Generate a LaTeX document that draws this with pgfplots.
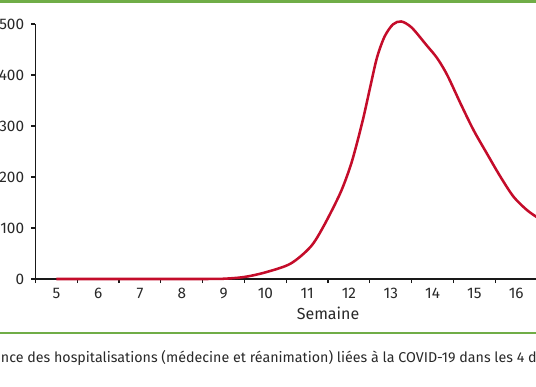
\documentclass[border=0pt]{standalone}
\usepackage{fontspec}
\setmainfont{Fira Sans}
\usepackage{pgfplots}
\pgfplotsset{compat=1.18}
\definecolor{grn}{RGB}{112,173,71}
\definecolor{crv}{RGB}{196,12,42}
\definecolor{txt}{RGB}{40,40,40}
\begin{document}
\begin{tikzpicture}[x=1pt,y=1pt]
\path[use as bounding box] (0,0) rectangle (402,289.5);
\clip (0,0) rectangle (402,289.5);
\draw[grn, line width=2pt] (0,288.5) -- (402,288.5);
\draw[grn, line width=1.6pt] (0,39.75) -- (402,39.75);
\begin{axis}[
  at={(26.6pt,80.25pt)}, anchor=south west,
  scale only axis, width=438.9pt, height=191.25pt,
  xmin=4.5, xmax=18.5, ymin=0, ymax=500,
  clip=false,
  axis x line=bottom, axis y line=left,
  axis line style={-, line width=0.9pt, black!90},
  every tick/.style={black!90, line width=0.9pt},
  tick align=outside,
  xtick={5,...,18},
  major x tick style={draw=none},
  minor xtick={4.5,5.5,...,18.5},
  minor tick length=3pt, major tick length=3pt,
  ytick={0,100,...,500},
  tick label style={font=\fontsize{11.5}{13}\selectfont, text=txt},
  /pgf/number format/assume math mode=true,
  xticklabel style={yshift=-0.5pt},
  yticklabel style={xshift=-2pt},
  xlabel={Semaine},
  xlabel style={font=\fontsize{12}{14}\selectfont, text=txt, at={(axis description cs:0.5,0)}, anchor=north, yshift=-17.5pt},
]
\addplot[crv, line width=1.9pt, smooth] coordinates {
(5,0) (6,0) (7,0) (8,0) (8.5,0) (9,0.5) (9.5,4) (10,13) (10.6,30) (11.08,63)
(11.39,103) (11.79,168) (12.03,220) (12.19,266) (12.35,318) (12.51,377)
(12.67,434) (12.85,475) (13.05,499) (13.25,505) (13.5,493) (13.85,459)
(14.11,433) (14.35,400) (14.67,344) (14.98,292) (15.3,246) (15.62,201)
(15.94,161) (16.26,135) (16.5,121)
};
\end{axis}
\node[anchor=base west, inner sep=0, text=txt, font=\fontsize{10.7}{12}\selectfont] at (0.5,18) {\llap{Incide}nce des hospitalisations (médecine et réanimation) liées à la COVID-19 dans les 4 départements};
\end{tikzpicture}
\end{document}
